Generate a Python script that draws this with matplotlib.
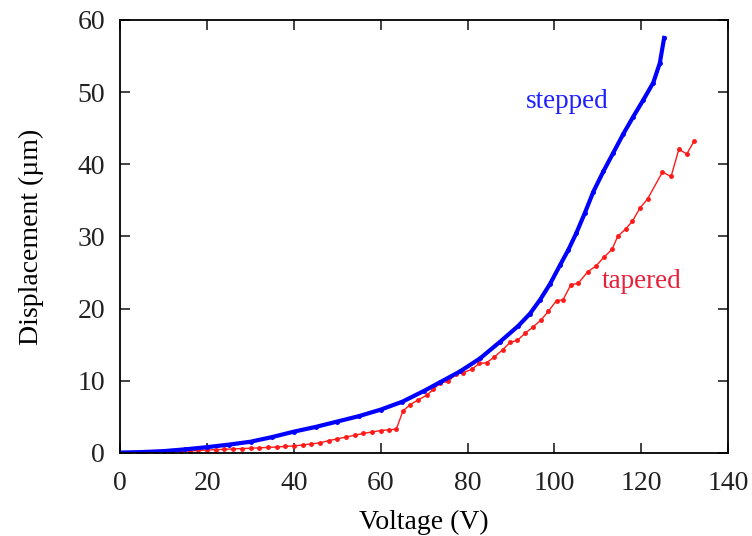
import numpy as np
import matplotlib.pyplot as plt

plt.rc('font', family='Liberation Serif', size=20)

# stepped actuator (blue)
v_stepped = [0, 5, 10, 15, 20, 25, 30, 35, 40, 45, 50, 55, 60, 65, 70, 73.7,
             78.3, 82.9, 87.5, 91.7, 94.4, 96.7, 99, 101.3, 103.2, 105.1,
             107, 109, 111.3, 113.6, 115.9, 118.2, 120.5, 122.8, 124.3, 125.3]
d_stepped = [0.05, 0.12, 0.25, 0.5, 0.8, 1.15, 1.55, 2.2, 2.95, 3.6, 4.35,
             5.1, 6.0, 7.1, 8.6, 9.8, 11.3, 13.1, 15.4, 17.6, 19.3, 21.2,
             23.4, 26.0, 28.1, 30.5, 33.2, 36.2, 39.0, 41.6, 44.2, 46.6,
             48.9, 51.3, 54.0, 57.5]

# tapered actuator (red)
v_tapered = [0, 2, 4, 6, 8, 10, 12, 14, 16, 18, 20, 22, 24, 26, 28, 30, 32,
             34, 36, 38, 40, 42, 44, 46, 48, 50, 52, 54, 56, 58, 60, 62, 63.6,
             65.1, 66.8, 68.5, 70.6, 72.1, 73.7, 75.6, 77.4, 79.0, 81.0, 82.7,
             84.4, 86.2, 88.1, 89.8, 91.5, 93.3, 95.0, 96.9, 98.6, 100.5,
             102.0, 103.8, 105.5, 107.7, 109.6, 111.4, 113.3, 114.6, 116.4,
             118.0, 119.7, 121.5, 124.9, 126.9, 128.7, 130.5, 132.2]
d_tapered = [0, 0.02, 0.04, 0.07, 0.1, 0.14, 0.18, 0.23, 0.28, 0.34, 0.4,
             0.45, 0.5, 0.55, 0.6, 0.65, 0.7, 0.76, 0.82, 0.9, 0.97, 1.1,
             1.25, 1.4, 1.7, 1.95, 2.2, 2.45, 2.7, 2.9, 3.1, 3.2, 3.3,
             5.8, 6.7, 7.3, 8.0, 8.8, 9.7, 9.9, 11.0, 11.1, 11.6, 12.4,
             12.5, 13.3, 14.3, 15.3, 15.6, 16.6, 17.4, 18.4, 19.6, 21.1,
             21.2, 23.3, 23.5, 25.1, 25.9, 27.1, 28.2, 30.0, 31.0, 32.1,
             33.9, 35.2, 38.9, 38.3, 42.1, 41.4, 43.2]

fig = plt.figure(figsize=(7.52, 5.36), dpi=100)
ax = fig.add_axes([0.16, 0.155, 0.808, 0.808])

ax.plot(v_tapered, d_tapered, color='#ff1a1a', lw=1.0, marker='o', ms=2.5)
ax.plot(v_stepped, d_stepped, color='#0000ff', lw=3.0, marker='o', ms=2.5,
        solid_joinstyle='round')

ax.text(103, 48.7, 'stepped', color='#2020ff', fontsize=19.5,
        ha='center', va='center')
ax.text(120, 23.7, 'tapered', color='#e8203a', fontsize=19.5,
        ha='center', va='center')

ax.set_xlim(0, 140)
ax.set_ylim(0, 60)
ax.set_xticks(np.arange(0, 141, 20))
ax.set_yticks(np.arange(0, 61, 10))
ax.tick_params(direction='in', top=True, right=True, length=7, width=1.2,
               labelsize=20, pad=11, colors='#222222')
ax.tick_params(axis='x', pad=13)
for s in ax.spines.values():
    s.set_linewidth(1.3)

ax.set_xlabel('Voltage (V)', fontsize=20, labelpad=10)
ax.set_ylabel('Displacement (µm)', fontsize=20, labelpad=24)

plt.savefig('out.png', dpi=100)
